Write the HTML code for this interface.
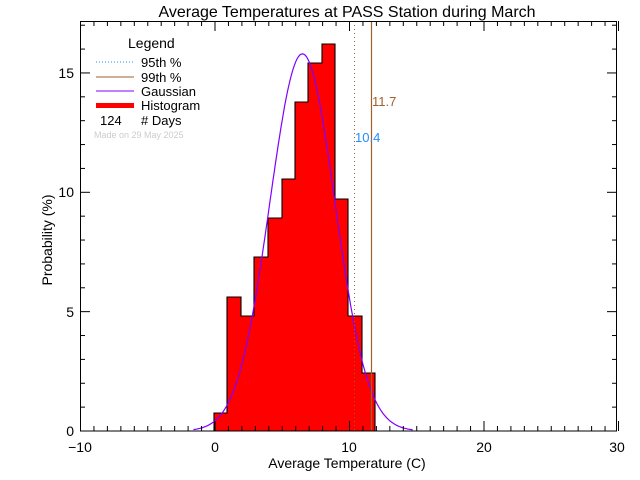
<!DOCTYPE html>
<html><head><style>body{margin:0;background:#fff}svg{display:block}text{font-family:"Liberation Sans",sans-serif}</style></head>
<body>
<svg width="640" height="480" viewBox="0 0 640 480" xmlns="http://www.w3.org/2000/svg">
<rect width="640" height="480" fill="#fff"/>
<text x="347" y="17" font-size="16" text-anchor="middle">Average Temperatures at PASS Station during March</text>
<g fill="#ff0000" stroke="#000" stroke-width="1.1">
<path d="M214,431 V413 H227 V297 H241 V316 H254 V257 H268 V218 H282 V179 H295 V102 H308 V63 H322 V44 H335 V199 H348 V316 H362 V373 H375 V431 Z"/>
</g>
<polyline id="g" fill="none" stroke="#8000ff" stroke-width="1.2" points=""/>
<line x1="354.5" y1="21" x2="354.5" y2="431" stroke="#a0602a" stroke-dasharray="1,3"/>
<line x1="371.5" y1="21" x2="371.5" y2="431" stroke="#a0602a" stroke-width="1.2"/>
<text x="372" y="106" font-size="13" fill="#a0602a">11.7</text>
<text x="355" y="142" font-size="13" fill="#1e90ff">10.4</text>
<rect x="80.5" y="21.5" width="536" height="409.5" fill="none" stroke="#000"/>
<g id="ticks" stroke="#000"></g>
<g font-size="14" text-anchor="middle">
<text x="80" y="452">−10</text><text x="215" y="452">0</text><text x="349" y="452">10</text><text x="484" y="452">20</text><text x="617" y="452">30</text>
<text x="347" y="468">Average Temperature (C)</text>
</g>
<g font-size="14" text-anchor="end">
<text x="74" y="436">0</text><text x="74" y="317">5</text><text x="74" y="197">10</text><text x="74" y="78">15</text>
</g>
<text transform="translate(52,240) rotate(-90)" font-size="14" text-anchor="middle">Probability  (%)</text>
<text x="128" y="48" font-size="14">Legend</text>
<line x1="96" y1="62" x2="134" y2="62" stroke="#1e90ff" stroke-dasharray="1,2"/>
<text x="141" y="67" font-size="13">95th %</text>
<line x1="96" y1="77" x2="134" y2="77" stroke="#a0602a"/>
<text x="141" y="82" font-size="13">99th %</text>
<line x1="96" y1="91" x2="134" y2="91" stroke="#8000ff"/>
<text x="141" y="96" font-size="13">Gaussian</text>
<rect x="96" y="103" width="38" height="5" fill="#ff0000"/>
<text x="141" y="110" font-size="13">Histogram</text>
<text x="100" y="125" font-size="13">124</text><text x="141" y="125" font-size="13"># Days</text>
<text x="94" y="138" font-size="9" fill="#ccc">Made on 29 May 2025</text>
</svg>
<script>
var x0=215,xs=13.45,y0=431,ys=23.87,p=[];
for(var t=-1.6;t<=14.75;t+=0.1){var v=15.8*Math.exp(-Math.pow(t-6.5,2)/(2*2.42*2.42));p.push((x0+t*xs).toFixed(1)+","+(y0-v*ys).toFixed(1));}
document.getElementById('g').setAttribute('points',p.join(' '));
var g=document.getElementById('ticks'),s='';
for(var i=-10;i<=30;i++){var x=x0+i*xs,L=(i%10==0)?10:5;s+='<line x1="'+x+'" y1="431" x2="'+x+'" y2="'+(431-L)+'"/><line x1="'+x+'" y1="21" x2="'+x+'" y2="'+(21+L)+'"/>';}
for(var j=0;j<=17;j++){var y=y0-j*ys,L=(j%5==0)?10:5;if(y<21)break;s+='<line x1="80" y1="'+y+'" x2="'+(80+L)+'" y2="'+y+'"/><line x1="617" y1="'+y+'" x2="'+(617-L)+'" y2="'+y+'"/>';}
g.innerHTML=s;
</script>
</body></html>
